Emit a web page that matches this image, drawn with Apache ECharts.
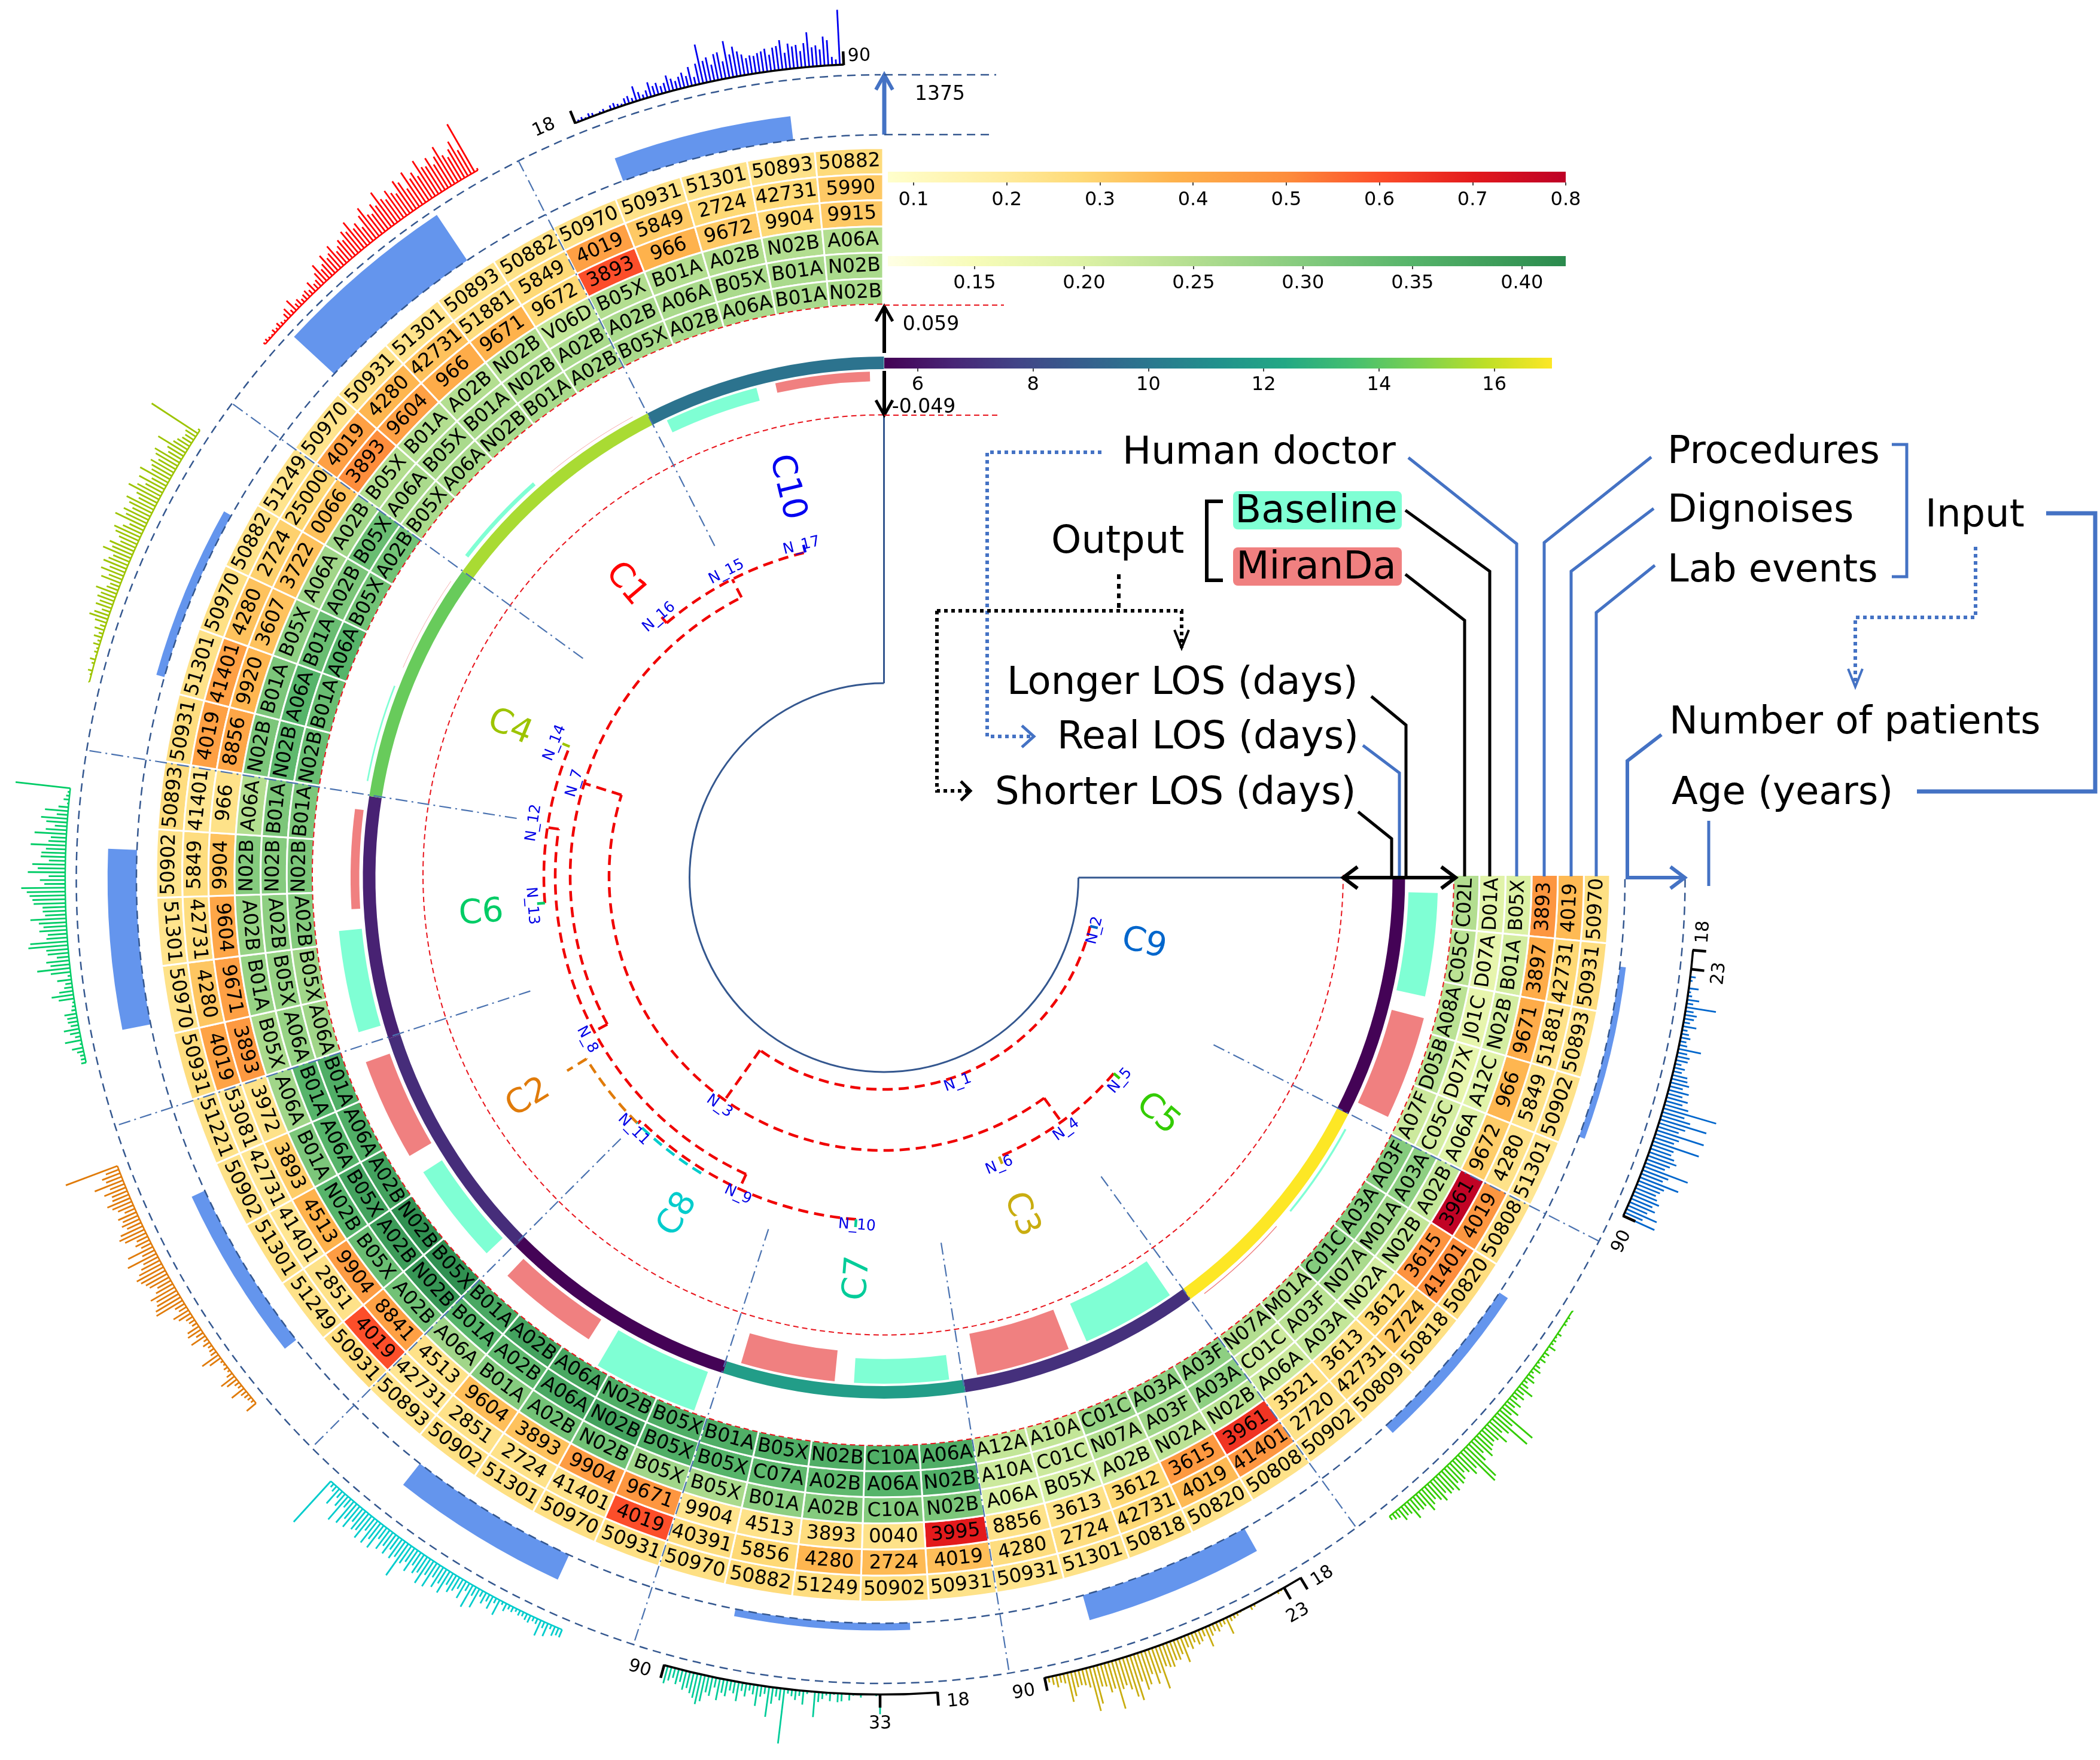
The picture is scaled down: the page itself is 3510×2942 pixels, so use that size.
<!DOCTYPE html>
<html><head><meta charset="utf-8">
<style>html,body{margin:0;padding:0;background:#fff}#c{width:3510px;height:2942px}</style>
<script src="https://cdn.jsdelivr.net/npm/echarts@6/dist/echarts.min.js"></script>
</head><body><div id="c"></div>
<script>
// ---------- data ----------
const clusters=['C9','C5','C3','C7','C8','C2','C6','C4','C1','C10'];
const ring1Codes=['50970','50931','50893','50902','51301','50808','50820','50818','50809','50902','50808','50820','50818','51301','50931','50931','50902','51249','50882','50970','50931','50970','51301','50902','50893','50931','51249','51301','50902','51221','50931','50970','51301','50902','50893','50931','51301','50970','50882','51249','50970','50931','51301','50893','50882','50970','50931','51301','50893','50882'];
const ring2Codes=['4019','42731','51881','5849','4280','4019','41401','2724','42731','2720','41401','4019','42731','2724','4280','4019','2724','4280','5856','40391','4019','41401','2724','2851','42731','4019','2851','41401','42731','53081','4019','4280','42731','5849','41401','4019','41401','4280','2724','25000','4019','4280','42731','51881','5849','4019','5849','2724','42731','5990'];
const ring3Codes=['3893','3897','9671','966','9672','3961','3615','3612','3613','3521','3961','3615','3612','3613','8856','3995','0040','3893','4513','9904','9671','9904','3893','9604','4513','8841','9904','4513','3893','3972','3893','9671','9604','9904','966','8856','9920','3607','3722','0066','3893','9604','966','9671','9672','3893','966','9672','9904','9915'];
const ring4Codes=['B05X','B01A','N02B','A12C','A06A','A02B','N02B','N02A','A03A','A06A','N02B','N02A','A02B','B05X','A06A','N02B','C10A','A02B','B01A','B05X','B05X','N02B','A02B','B01A','A06A','A02B','B05X','N02B','B01A','A06A','B05X','B01A','A02B','N02B','A06A','N02B','B01A','B05X','A06A','A02B','B05X','B01A','A02B','N02B','V06D','B05X','B01A','A02B','N02B','A06A'];
const ring5Codes=['D01A','D07A','J01C','D07X','C05C','A03A','M01A','N07A','A03F','C01C','A03A','A03F','N07A','C01C','A10A','N02B','A06A','A02B','C07A','B05X','B05X','N02B','A06A','A02B','B01A','N02B','A02B','B05X','A06A','B01A','A06A','B05X','A02B','N02B','B01A','N02B','A06A','B01A','A02B','B05X','A06A','B05X','B01A','N02B','A02B','A02B','A06A','B05X','B01A','N02B'];
const ring6Codes=['C02L','C05C','A08A','D05B','A07F','A03F','A03A','C01C','M01A','N07A','A03F','A03A','C01C','A10A','A12A','A06A','C10A','N02B','B05X','B01A','B05X','N02B','A06A','A02B','B01A','B05X','N02B','A02B','A06A','B01A','A06A','B05X','A02B','N02B','B01A','N02B','B01A','A06A','B05X','A02B','B05X','A06A','N02B','B01A','A02B','B05X','A02B','A06A','B01A','N02B'];
const ring1Vals=[.25,.26,.23,.24,.22,.24,.26,.25,.23,.23,.24,.24,.25,.24,.23,.24,.26,.26,.27,.25,.25,.25,.25,.25,.23,.26,.24,.25,.24,.24,.26,.24,.23,.23,.26,.26,.24,.25,.24,.23,.23,.24,.23,.23,.24,.24,.24,.24,.24,.27];
const ring2Vals=[.36,.28,.24,.24,.24,.47,.5,.32,.26,.24,.47,.36,.28,.26,.26,.35,.36,.37,.28,.26,.6,.24,.24,.24,.22,.6,.24,.22,.22,.22,.43,.33,.26,.26,.22,.44,.44,.34,.3,.28,.44,.37,.34,.26,.28,.44,.32,.28,.28,.32];
const ring3Vals=[.47,.4,.4,.37,.31,.79,.48,.28,.25,.25,.65,.46,.28,.24,.24,.7,.24,.26,.24,.23,.47,.45,.34,.35,.24,.44,.45,.38,.31,.24,.46,.44,.42,.34,.24,.42,.37,.34,.34,.34,.5,.44,.4,.38,.28,.6,.38,.32,.28,.32];
const ring4Vals=[.2,.21,.21,.19,.19,.23,.23,.21,.23,.22,.24,.24,.22,.21,.2,.31,.3,.3,.29,.26,.27,.32,.32,.3,.27,.32,.33,.35,.31,.27,.26,.28,.28,.3,.25,.31,.31,.29,.27,.27,.25,.25,.25,.25,.23,.25,.25,.25,.25,.25];
const ring5Vals=[.19,.18,.18,.18,.21,.29,.27,.26,.24,.22,.29,.27,.25,.22,.22,.36,.35,.34,.34,.35,.36,.38,.37,.34,.35,.4,.39,.38,.35,.35,.28,.28,.29,.3,.31,.34,.35,.33,.31,.33,.26,.26,.26,.26,.26,.26,.26,.26,.26,.26];
const ring6Vals=[.25,.24,.24,.24,.22,.3,.3,.3,.25,.25,.29,.29,.28,.23,.23,.36,.36,.36,.36,.36,.36,.36,.37,.38,.37,.41,.41,.38,.36,.36,.27,.27,.3,.31,.31,.33,.33,.35,.32,.32,.26,.26,.26,.26,.26,.26,.26,.26,.26,.26];
const patients=[140,230,590,165,620,330,660,190,1250,550];
const losDays=[5.5,17,7,11.8,5.5,6.9,6.5,14.3,15.5,9.8];
const baselineDiff=[.037,.0025,-.045,-.027,.052,.028,.029,.002,.005,-.0144];
const mirandaDiff=[.042,.001,-.046,-.034,.0295,.032,.011,.0004,.0004,-.0105];
const ageStart=[23,18,23,33,18,18,18,18,18,18];
const ageC9=[6,0,10,5,0,18,5,8,22,12,55,15,22,18,12,25,10,14,18,12,15,42,18,24,22,12,20,16,28,30,35,25,38,28,40,32,45,100,42,55,88,50,40,90,45,38,88,42,40,48,55,45,38,85,50,42,75,50,45,40,45,52,42,50,38,60,35,62];
const ageC5=[2,1,4,3,5,0,2,8,3,6,5,14,3,10,6,12,4,10,16,6,12,18,8,15,30,16,22,12,26,18,32,22,78,36,78,40,30,48,34,30,34,38,46,30,42,75,80,40,48,36,30,40,44,36,48,40,42,34,46,38,30,36,44,28,30,26,38,22,20,25,14,12,8];
const ageC3=[0,3,5,0,2,0,0,0,0,5,8,0,2,3,6,8,10,32,10,12,18,14,20,38,15,22,25,18,28,22,48,30,38,36,46,44,40,80,48,66,45,62,70,52,85,76,60,50,55,90,50,55,42,40,70,82,36,30,28,30,45,54,18,15,22,16,10,8];
const ageC7=[36,3,0,0,2,6,0,3,12,2,14,16,3,15,5,12,18,46,2,5,25,10,18,12,8,100,22,16,30,55,14,20,38,18,12,24,15,35,22,18,30,25,40,18,35,30,48,55,45,38,30,35,22,28,18,25,32,15];
const ageC8=[15,14,18,8,25,12,30,10,8,14,12,8,10,6,10,8,15,6,30,10,25,14,22,12,38,18,45,16,35,20,28,35,24,45,30,42,26,50,30,52,34,40,28,45,30,38,70,34,42,28,42,30,42,25,50,36,50,28,50,38,42,30,48,35,50,20,55,28,15,35,12,8,100];
const ageC2=[22,6,8,10,12,28,8,10,22,30,12,5,8,4,5,24,36,12,10,8,14,8,30,15,28,24,10,12,14,25,32,16,20,55,52,45,42,50,35,28,40,44,50,55,46,38,30,58,25,50,20,28,22,42,50,44,28,35,30,36,20,30,38,45,32,30,42,28,55,30,35,25,100];
const ageC6=[9,8,8,12,20,4,30,10,18,28,14,18,18,22,8,6,4,28,40,25,15,12,26,6,36,60,35,42,22,38,40,72,68,38,35,50,42,50,65,38,42,42,58,60,65,70,80,38,46,30,68,50,60,30,45,44,36,64,32,28,58,38,22,38,48,20,42,18,3,10,6,4,100];
const ageC4=[2,0,3,8,0,5,10,2,6,4,12,6,15,8,18,10,22,35,28,16,30,25,32,28,40,22,18,38,26,44,30,45,38,32,55,40,48,30,36,46,52,38,28,60,42,50,36,46,55,34,42,62,48,35,52,30,58,38,42,48,36,46,52,28,34,58,30,26,20,18,22,100,4];
const ageC1=[4,6,4,3,8,5,10,6,4,12,18,8,25,10,14,8,12,15,10,22,12,15,25,38,22,28,42,30,35,46,28,34,42,36,50,44,60,40,46,32,52,64,44,40,56,48,72,52,46,60,50,44,66,58,40,70,52,60,48,76,58,55,68,50,62,78,56,48,60,72,50,100,4];
const ageC10=[2,4,6,3,8,6,2,4,6,2,8,10,6,4,12,14,8,28,15,8,14,27,18,22,14,18,30,22,16,22,28,20,35,15,38,72,40,45,30,48,50,32,68,42,55,45,38,30,34,32,36,38,42,30,42,44,54,30,46,40,42,30,44,63,35,38,30,53,46,15,10,100,8];
const treeArcs=[[356,13.5,125.3],[458,54,197.3],[507,40.5,67.5],[523,151.8,243.1],[557,229.5,256.5],[548,114.7,188.3],[567,175.5,202.5],[575,94.5,134.8]];
const treeStems=[[356,458,125.3],[458,507,54],[458,523,197.3],[523,557,243.1],[523,548,151.8],[548,567,188.3],[548,575,114.7],[575,582,134.8]];
const treeNames=['N_1','N_2','N_3','N_4','N_5','N_6','N_7','N_8','N_9','N_10','N_11','N_12','N_13','N_14','N_15','N_16','N_17'];
const treeNameR=[365,365,470,521,522,519,539,564,583,583,593,591,589,593,574,574,571];
const treeNameA=[70,14,125.6,54,40.6,68,197,151.3,114.6,94.3,134.7,188.9,175.4,202.3,242.9,229.3,256.2];
const yorTicks=[.1,.2,.3,.4,.5,.6,.7,.8];
const ylgTicks=[.15,.2,.25,.3,.35,.4];
const losTicks=[6,8,10,12,14,16];

// ---------- scales / styles ----------
const clusterColors=['#0066cc','#33cc00','#c9ad10','#00cc99','#00cccc','#e07b0a','#00cc66','#9dc400','#ff0000','#0000f0'];
const blackAxis=[1,0,1,1,0,0,0,0,0,1];
const FONT='"DejaVu Sans"';
const AQUA='#7fffd4',CORAL='#f08080',BLUE='#4472c4',NAVY='#34578f';
const YOR=[[.0724,'#ffffcc'],[.19,'#ffeda0'],[.28,'#fed976'],[.38,'#feb24c'],[.5,'#fd8d3c'],[.6,'#fc4e2a'],[.7,'#e31a1c'],[.8,'#bd0026']];
const YLG=[[.1104,'#ffffe5'],[.15,'#f7fcb9'],[.2,'#dcf1a5'],[.25,'#b3de90'],[.3,'#85cb7e'],[.35,'#56b46a'],[.42,'#2a8a4d']];
const VIR=['#440154','#482475','#414487','#355f8d','#2a788e','#21918c','#22a884','#44bf70','#7ad151','#bddf26','#fde725'].map((c,i)=>[5.42+i*1.158,c]);
function lerpColor(st,v){
  if(v<=st[0][0])return st[0][1];
  for(let i=1;i<st.length;i++){ if(v<=st[i][0]){
    const t=(v-st[i-1][0])/(st[i][0]-st[i-1][0]);
    const a=parseInt(st[i-1][1].slice(1),16),b=parseInt(st[i][1].slice(1),16);
    const ch=s=>Math.round(((a>>s)&255)*(1-t)+((b>>s)&255)*t);
    return `rgb(${ch(16)},${ch(8)},${ch(0)})`;}}
  return st[st.length-1][1];
}
const SPAN=270/clusters.length, COL=SPAN/5;
const rad=d=>d*Math.PI/180;
const R_OUT=1215,R_IN=953,RW=(R_OUT-R_IN)/6;
const R_BAR=1244,R_BAR2=1344.5,R_AGE=1363;
// the reference's concentric tracks are not perfectly concentric, so each family has its own polar system
const P_HEAT=0,P_LOS=1,P_OUTER=2,P_TREE=3;
const polarCenters=[[1476,1462.5],[1477.5,1467],[1472,1469.5],[1476,1465]];
const ageAngle=(ci,age)=>ci*SPAN+5+(age-18)*19.4/72;
const diffR=v=>v>=0?877+v*1322:846+v*1530;
const tang=a=>a<=180?a-90:a-270;       // tangential text rotation (clockwise degrees)
const radial=a=>(a>90&&a<270)?a-180:a; // radial text rotation (clockwise degrees)

function sector(p,r0,r,a0,a1,style){return{type:'sector',shape:{cx:p.coordSys.cx,cy:p.coordSys.cy,r0,r,startAngle:rad(a0),endAngle:rad(a1),clockwise:true},style};}
function arc(p,r,a0,a1,style){return{type:'arc',shape:{cx:p.coordSys.cx,cy:p.coordSys.cy,r,startAngle:rad(a0),endAngle:rad(a1),clockwise:true},style:Object.assign({fill:null},style)};}
function spoke(api,r0,r1,a,style){const s=api.coord([r0,a]),e=api.coord([r1,a]);return{type:'line',shape:{x1:s[0],y1:s[1],x2:e[0],y2:e[1]},style};}
function label(api,r,a,rot,text,size,fill,dy){const q=api.coord([r,a]);return{type:'text',x:q[0],y:q[1]+(dy||0),rotation:-rad(rot),style:{text,font:`${size}px ${FONT}`,fill,textAlign:'center',textVerticalAlign:'middle',align:'center',verticalAlign:'middle'}};}
function polarSeries(name,data,z,render,pi){return{name,type:'custom',coordinateSystem:'polar',polarIndex:pi===undefined?P_TREE:pi,silent:true,animation:false,z,data,renderItem:render};}

const ringCodes=[ring1Codes,ring2Codes,ring3Codes,ring4Codes,ring5Codes,ring6Codes];
const ringVals=[ring1Vals,ring2Vals,ring3Vals,ring4Vals,ring5Vals,ring6Vals];
const cellData=[];
ringVals.forEach((vals,ri)=>vals.forEach((v,ci)=>cellData.push([ri,ci,v])));
const series=[];

// heat cells
series.push(polarSeries('Top codes',cellData,3,(p,api)=>{
  const ri=api.value(0),ci=api.value(1),v=api.value(2);
  const r1=R_OUT-ri*RW,r0=r1-RW,a0=ci*COL,a1=a0+COL,am=a0+COL/2;
  return{type:'group',children:[
    sector(p,r0,r1,a0,a1,{fill:lerpColor(ri<3?YOR:YLG,v),stroke:'#fff',lineWidth:3}),
    label(api,(r0+r1)/2,am,tang(am),ringCodes[ri][ci],32.5,'#000',1)]};
},P_HEAT));
const clusterIdx=clusters.map((_,i)=>i);
// guide arcs
series.push(polarSeries('Blue guide arcs',[[R_BAR],[R_BAR2]],4,(p,api)=>arc(p,api.value(0),0,270,{stroke:NAVY,lineWidth:2.5,lineDash:[14,9]}),P_OUTER));
series.push(polarSeries('Red guide arcs',[[954],[769]],4,(p,api)=>arc(p,api.value(0),0,270,{stroke:'#e8141c',lineWidth:2,lineDash:[9,6]}),P_HEAT));
// patients bars
series.push(polarSeries('Number of patients',patients.map((v,i)=>[i,v]),2,(p,api)=>{
  const i=api.value(0),c=(i+.5)*SPAN;
  return sector(p,R_BAR,R_BAR+api.value(1)*(R_BAR2-R_BAR)/1375,c-6.75,c+6.75,{fill:'#6495ed'});
},P_OUTER));
// LOS ring
series.push(polarSeries('Real LOS',losDays.map((v,i)=>[i,v]),3,(p,api)=>{
  const i=api.value(0);
  return sector(p,850,871,i*SPAN,(i+1)*SPAN,{fill:lerpColor(VIR,api.value(1))});
},P_LOS));
// baseline / MiranDa difference bars
function diffSeries(name,vals,off,color){
  return polarSeries(name,vals.map((v,i)=>[i,v]),3,(p,api)=>{
    const i=api.value(0),v=api.value(1),a=i*SPAN+off;
    return sector(p,v>=0?877:846,diffR(v),a,a+10.8,{fill:color});
  },P_LOS);
}
series.push(diffSeries('Baseline',baselineDiff,1.6,AQUA));
series.push(diffSeries('MiranDa',mirandaDiff,14.6,CORAL));
// separators
series.push(polarSeries('Cluster separators',clusterIdx.slice(1),6,(p,api)=>
  spoke(api,620,1344,api.value(0)*SPAN,{stroke:'#4a72b0',lineWidth:2.2,lineDash:[20,7,3,7]})));
// inner frame
series.push(polarSeries('Frame',[[325]],4,(p,api)=>arc(p,api.value(0),0,270,{stroke:NAVY,lineWidth:3}),P_LOS));
series.push(polarSeries('Frame edges',[[0],[270]],4,(p,api)=>spoke(api,325,771,api.value(0),{stroke:NAVY,lineWidth:3}),P_LOS));
// dendrogram
const treeDash={stroke:'#f00000',lineWidth:4.5,lineDash:[17,10]};
series.push(polarSeries('Tree arcs',treeArcs,7,(p,api)=>arc(p,api.value(0),api.value(1),api.value(2),treeDash)));
series.push(polarSeries('Tree stems',treeStems,7,(p,api)=>spoke(api,api.value(0),api.value(1),api.value(2),treeDash)));
series.push(polarSeries('Tree leaf C8',[[582,121.5,135]],7,(p,api)=>arc(p,api.value(0),api.value(1),api.value(2),{stroke:clusterColors[4],lineWidth:4.5,lineDash:[17,10]})));
series.push(polarSeries('Tree leaf C2',[[582,135,148.4]],7,(p,api)=>arc(p,api.value(0),api.value(1),api.value(2),{stroke:clusterColors[5],lineWidth:4.5,lineDash:[17,10]})));
series.push(polarSeries('Tree stem C2',[[582,620,148.4]],7,(p,api)=>spoke(api,api.value(0),api.value(1),api.value(2),{stroke:clusterColors[5],lineWidth:4.5,lineDash:[17,10]})));
// leaf ticks: [cluster, r]
series.push(polarSeries('Leaf ticks',[[0,356],[1,507],[2,507],[3,575],[6,567],[7,567],[8,557],[9,557]],8,(p,api)=>{
  const i=api.value(0),r=api.value(1);
  return spoke(api,r,r+13,(i+.5)*SPAN,{stroke:clusterColors[i],lineWidth:4.5});
}));
series.push(polarSeries('Tree labels',treeNames.map((_,i)=>[treeNameR[i],treeNameA[i]]),9,(p,api)=>{
  const a=api.value(1);
  return label(api,api.value(0),a,tang(a),treeNames[p.dataIndex],25,'#0000e6',2);
}));
// cluster names
const clusterNameR=[449,603,605,667,656,696,674,674,655,676];
const clusterNameA=[13.8,40.5,67.6,93.6,121.5,148.4,175.2,202.2,229,256.2];
series.push(polarSeries('Cluster names',clusterIdx.map(i=>[clusterNameR[i],clusterNameA[i]]),9,(p,api)=>{
  const a=api.value(1),i=p.dataIndex;
  return label(api,api.value(0),a,radial((i+.5)*SPAN),clusters[i],56,clusterColors[i],6);
}));
// age histograms
const ageArrays=[ageC9,ageC5,ageC3,ageC7,ageC8,ageC2,ageC6,ageC4,ageC1,ageC10];
ageArrays.forEach((arr,ci)=>{
  series.push(polarSeries(clusters[ci]+' age',arr.map((v,k)=>[ageStart[ci]+k,v]),5,(p,api)=>{
    const a=ageAngle(ci,api.value(0)),len=api.value(1)*.92;
    if(len<=0)return null;
    return spoke(api,R_AGE,R_AGE+len,a,{stroke:clusterColors[ci],lineWidth:2.8});
  },P_OUTER));
  const black=blackAxis[ci];
  series.push(polarSeries(clusters[ci]+' age axis',[[18,90]],6,(p,api)=>arc(p,R_AGE,ageAngle(ci,api.value(0)),ageAngle(ci,api.value(1)),{stroke:black?'#000':clusterColors[ci],lineWidth:black?3.5:2.5}),P_OUTER));
  if(black){
    const ticks=ci===9?[18,90]:[18,ageStart[ci],90];
    series.push(polarSeries(clusters[ci]+' age ticks',ticks.map(t=>[t]),6,(p,api)=>{
      const age=api.value(0),a=ageAngle(ci,age);
      const mid=age!==18&&age!==90;
      const off18=ci===9?-2.1:-1.4,off90=ci===9?1.1:1.6;
      const la=age===18?a+off18:(age===90?a+off90:a),lr=mid?1410:1378;
      return{type:'group',children:[
        spoke(api,R_AGE-1,R_AGE+22,a,{stroke:'#000',lineWidth:4.5}),
        label(api,lr,la,tang(la),String(age),30,'#000',2)]};
    },P_OUTER));
  }
});
// colour bars
function barSeries(i,st,min,max){
  return{name:'Colour bar '+(i+1),type:'custom',coordinateSystem:'cartesian2d',xAxisIndex:i,yAxisIndex:i,silent:true,animation:false,data:[[min,max]],encode:{x:[0,1]},
    renderItem:(p,api)=>{
      const a=api.coord([api.value(0),0]),b=api.coord([api.value(1),1]);
      const stops=st.map(s=>({offset:(s[0]-min)/(max-min),color:s[1]}));
      return{type:'rect',shape:{x:a[0],y:b[1],width:b[0]-a[0],height:a[1]-b[1]},style:{fill:{type:'linear',x:0,y:0,x2:1,y2:0,colorStops:stops}}};
    }};
}
series.push(barSeries(0,YOR,.0724,.8),barSeries(1,YLG,.1104,.42),barSeries(2,VIR,5.42,17));
function xAx(i,min,max,ticks,fmt,margin){return{gridIndex:i,type:'value',min,max,axisLine:{show:false},splitLine:{show:false},
  axisTick:{show:true,length:5,lineStyle:{color:'#444',width:2},customValues:ticks},
  axisLabel:{customValues:ticks,margin,fontFamily:'DejaVu Sans',fontSize:32,color:'#000',formatter:fmt,hideOverlap:false,showMinLabel:true,showMaxLabel:true}};}
function yAx(i){return{gridIndex:i,type:'value',min:0,max:1,show:false};}

// ---------- annotations ----------
const g=[];
function T(x,y,text,size,align){g.push({type:'text',x,y,z:50,style:{text,font:`${size}px ${FONT}`,fill:'#000',textAlign:align||'left',textVerticalAlign:'middle'}});}
function P(pts,stroke,w,dash){g.push({type:'polyline',z:40,shape:{points:pts},style:{stroke,lineWidth:w,fill:null,lineDash:dash||null}});}
function Head(x,y,dx,dy,stroke,w,back,half){ // tip at x,y, pointing along dx,dy
  P([[x-dx*back-dy*half,y-dy*back-dx*half],[x,y],[x-dx*back+dy*half,y-dy*back+dx*half]],stroke,w);
}
g.push({type:'rect',z:30,shape:{x:2061,y:821,width:282,height:64,r:8},style:{fill:AQUA}});
g.push({type:'rect',z:30,shape:{x:2061,y:915,width:282,height:64,r:8},style:{fill:CORAL}});
T(1876,758,'Human doctor',64);T(2787,757,'Procedures',64);T(2787,855,'Dignoises',64);T(2787,955,'Lab events',64);T(3218,863,'Input',64);
T(2200,856,'Baseline',64,'center');T(2200,950,'MiranDa',64,'center');T(1757,907,'Output',64);
T(1683,1143,'Longer LOS (days)',64);T(1767,1234,'Real LOS (days)',64);T(1663,1327,'Shorter LOS (days)',64);
T(2790,1209,'Number of patients',64);T(2794,1327,'Age (years)',64);
T(1571,158,'1375',33,'center');T(1556,543,'0.059',33,'center');T(1544,681,'-0.049',33,'center');
P([[2354,765],[2535,909],[2535,1465]],BLUE,5);
P([[2760,764],[2581,907],[2581,1465]],BLUE,5);
P([[2764,850],[2626,955],[2626,1465]],BLUE,5);
P([[2766,945],[2668,1024],[2668,1465]],BLUE,5);
P([[2349,853],[2490,955],[2490,1465]],'#000',5);
P([[2349,960],[2448,1037],[2448,1465]],'#000',5);
P([[2292,1164],[2350,1212],[2350,1465]],'#000',5);
P([[2278,1246],[2339,1292],[2339,1465]],BLUE,5);
P([[2270,1357],[2326,1402],[2326,1465]],'#000',5);
P([[2777,1228],[2720,1272],[2720,1467],[2816,1467]],BLUE,6);Head(2816,1467,1,0,BLUE,6,24,18);
P([[2856,1372],[2856,1481]],BLUE,5);
P([[3204,1323],[3502,1323],[3502,858],[3420,858]],BLUE,7);
P([[3162,743],[3187,743],[3187,964],[3162,964]],BLUE,5);
P([[2044,838],[2017,838],[2017,970],[2044,970]],'#000',6);
P([[1841,756],[1650,756],[1650,1231],[1728,1231]],BLUE,6,[6,6]);Head(1728,1231,1,0,BLUE,5,20,18);
P([[1870,960],[1870,1021]],'#000',6,[8,8]);
P([[1566,1021],[1975,1021],[1975,1083]],'#000',6,[6,6]);Head(1975,1083,0,1,'#000',4,30,12);
P([[1566,1021],[1566,1322],[1620,1322]],'#000',6,[6,6]);Head(1622,1322,1,0,'#000',5,16,16);
P([[3302,914],[3302,1032],[3101,1032],[3101,1146]],BLUE,6,[6,6]);Head(3101,1148,0,1,BLUE,4,30,12);
// measurement arrows and extension lines
P([[1478,225],[1478,125]],BLUE,7);Head(1478,125,0,-1,BLUE,6,25,14);
P([[1478,590],[1478,512]],'#000',6);Head(1478,512,0,-1,'#000',5,25,14);
P([[1478,620],[1478,692]],'#000',6);Head(1478,694,0,1,'#000',5,25,14);
P([[2245,1467],[2433,1467]],'#000',6);Head(2245,1467,-1,0,'#000',6,24,18);Head(2433,1467,1,0,'#000',6,24,18);
P([[1478,225],[1660,225]],NAVY,2.5,[14,9]);P([[1478,125],[1665,125]],NAVY,2.5,[14,9]);
P([[1478,510],[1678,510]],'#e8141c',2,[9,6]);P([[1478,694],[1668,694]],'#e8141c',2,[9,6]);

const chart=echarts.init(document.getElementById('c'),null,{renderer:'canvas',width:3510,height:2942});
chart.setOption({
  animation:false,backgroundColor:'#fff',
  polar:polarCenters.map(c=>({center:c,radius:1500})),
  radiusAxis:polarCenters.map((_,i)=>({polarIndex:i,type:'value',min:0,max:1500,show:false})),
  angleAxis:polarCenters.map((_,i)=>({polarIndex:i,type:'value',min:0,max:360,startAngle:0,clockwise:true,show:false})),
  grid:[
    {left:1484,top:287,width:1133,height:18},
    {left:1484,top:428,width:1133,height:17},
    {left:1478,top:598,width:1116,height:18}],
  xAxis:[xAx(0,.0724,.8,yorTicks,v=>v.toFixed(1),14),xAx(1,.1104,.42,ylgTicks,v=>v.toFixed(2),13),xAx(2,5.42,17,losTicks,v=>String(v),12)],
  yAxis:[yAx(0),yAx(1),yAx(2)],
  graphic:{elements:g},
  series
});
</script></body></html>
